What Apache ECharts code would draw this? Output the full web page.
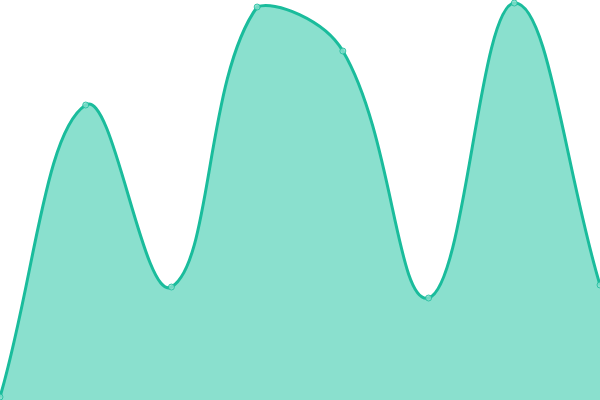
<!DOCTYPE html>
<html>
<head>
<meta charset="utf-8">
<script src="https://cdn.jsdelivr.net/npm/echarts@6/dist/echarts.min.js"></script>
<style>
  html, body { margin: 0; padding: 0; background: #fff; }
  #chart { width: 600px; height: 400px; }
</style>
</head>
<body>
<div id="chart"></div>
<script>
var categories = ['A', 'B', 'C', 'D', 'E', 'F', 'G', 'H'];
var values = [3, 295, 113, 393, 349, 102, 397, 115];

var lineColor = '#1abc9c';
var fillColor = '#8ae0ce';
var tension = 0.4;

// spline control points, clamped to the plot area
function splinePath(pts, rect) {
    var n = pts.length;
    var cps = [];
    function clamp(p) {
        return [
            Math.min(Math.max(p[0], rect.x), rect.x + rect.width),
            Math.min(Math.max(p[1], rect.y), rect.y + rect.height)
        ];
    }
    for (var i = 0; i < n; i++) {
        var prev = pts[Math.max(i - 1, 0)];
        var cur = pts[i];
        var next = pts[Math.min(i + 1, n - 1)];
        var d01 = Math.hypot(cur[0] - prev[0], cur[1] - prev[1]);
        var d12 = Math.hypot(next[0] - cur[0], next[1] - cur[1]);
        var s01 = d01 / (d01 + d12) || 0;
        var s12 = d12 / (d01 + d12) || 0;
        var fa = tension * s01, fb = tension * s12;
        cps.push({
            prev: clamp([cur[0] - fa * (next[0] - prev[0]), cur[1] - fa * (next[1] - prev[1])]),
            next: clamp([cur[0] + fb * (next[0] - prev[0]), cur[1] + fb * (next[1] - prev[1])])
        });
    }
    var d = 'M' + pts[0][0] + ' ' + pts[0][1];
    for (var j = 1; j < n; j++) {
        var a = cps[j - 1].next, b = cps[j].prev;
        d += ' C' + a[0] + ' ' + a[1] + ' ' + b[0] + ' ' + b[1] + ' ' + pts[j][0] + ' ' + pts[j][1];
    }
    return d;
}

var chart = echarts.init(document.getElementById('chart'));
chart.setOption({
    animation: false,
    grid: { left: 0, right: 0, top: 0, bottom: 0 },
    xAxis: {
        type: 'category',
        data: categories,
        boundaryGap: false,
        show: false
    },
    yAxis: {
        type: 'value',
        min: 0,
        max: 400,
        show: false
    },
    series: [{
        type: 'custom',
        z: 1,
        data: values.map(function (v, i) { return [i, v]; }),
        encode: { x: 0, y: 1 },
        renderItem: function (params, api) {
            if (params.dataIndex !== 0) return null;
            var rect = params.coordSys;
            var pts = values.map(function (v, i) { return api.coord([i, v]); });
            var bottom = rect.y + rect.height;
            var lineD = splinePath(pts, rect);
            var areaD = lineD + ' L' + pts[pts.length - 1][0] + ' ' + bottom +
                ' L' + pts[0][0] + ' ' + bottom + ' Z';
            return {
                type: 'group',
                children: [{
                    type: 'path',
                    shape: { pathData: areaD },
                    style: { fill: fillColor }
                }, {
                    type: 'path',
                    shape: { pathData: lineD },
                    style: { fill: 'none', stroke: lineColor, lineWidth: 3 }
                }]
            };
        }
    }, {
        type: 'scatter',
        z: 2,
        data: values,
        symbol: 'circle',
        symbolSize: 6,
        itemStyle: { color: fillColor, borderColor: lineColor, borderWidth: 1 }
    }]
});
</script>
</body>
</html>
